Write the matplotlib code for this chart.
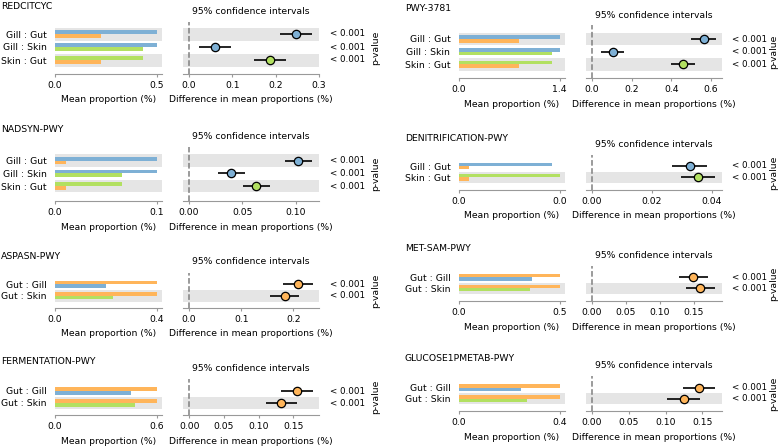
import matplotlib
matplotlib.use("Agg")
import matplotlib.pyplot as plt
import numpy as np

# ---------------- data ----------------
redcitcyc_pairs = ["Gill : Gut", "Gill : Skin", "Skin : Gut"]
redcitcyc_mean1 = [0.500, 0.500, 0.434]
redcitcyc_mean2 = [0.226, 0.434, 0.226]
redcitcyc_diff = [0.247, 0.060, 0.187]
redcitcyc_lo = [0.210, 0.023, 0.151]
redcitcyc_hi = [0.285, 0.097, 0.224]
redcitcyc_p = ["< 0.001", "< 0.001", "< 0.001"]
redcitcyc_bar_ticks = [0.0, 0.5]
redcitcyc_ci_ticks = [0.0, 0.1, 0.2, 0.3]

nadsyn_pairs = ["Gill : Gut", "Gill : Skin", "Skin : Gut"]
nadsyn_mean1 = [0.100, 0.100, 0.066]
nadsyn_mean2 = [0.011, 0.066, 0.011]
nadsyn_diff = [0.102, 0.0396, 0.0629]
nadsyn_lo = [0.0897, 0.0274, 0.0508]
nadsyn_hi = [0.1146, 0.0520, 0.0754]
nadsyn_p = ["< 0.001", "< 0.001", "< 0.001"]
nadsyn_bar_ticks = [0.0, 0.1]
nadsyn_ci_ticks = [0.00, 0.05, 0.10]

aspasn_pairs = ["Gut : Gill", "Gut : Skin"]
aspasn_mean1 = [0.400, 0.400]
aspasn_mean2 = [0.202, 0.227]
aspasn_diff = [0.2096, 0.183]
aspasn_lo = [0.181, 0.155]
aspasn_hi = [0.238, 0.211]
aspasn_p = ["< 0.001", "< 0.001"]
aspasn_bar_ticks = [0.0, 0.4]
aspasn_ci_ticks = [0.0, 0.1, 0.2]

ferm_pairs = ["Gut : Gill", "Gut : Skin"]
ferm_mean1 = [0.602, 0.602]
ferm_mean2 = [0.446, 0.469]
ferm_diff = [0.1547, 0.132]
ferm_lo = [0.132, 0.110]
ferm_hi = [0.1777, 0.1547]
ferm_p = ["< 0.001", "< 0.001"]
ferm_bar_ticks = [0.0, 0.6]
ferm_ci_ticks = [0.00, 0.05, 0.10, 0.15]

pwy3781_pairs = ["Gill : Gut", "Gill : Skin", "Skin : Gut"]
pwy3781_mean1 = [1.400, 1.400, 1.294]
pwy3781_mean2 = [0.832, 1.294, 0.832]
pwy3781_diff = [0.563, 0.104, 0.459]
pwy3781_lo = [0.501, 0.045, 0.400]
pwy3781_hi = [0.625, 0.163, 0.521]
pwy3781_p = ["< 0.001", "< 0.001", "< 0.001"]
pwy3781_bar_ticks = [0.0, 1.4]
pwy3781_ci_ticks = [0.0, 0.2, 0.4, 0.6]

denit_pairs = ["Gill : Gut", "Skin : Gut"]
denit_mean1 = [0.0360, 0.0390]
denit_mean2 = [0.0041, 0.0041]
denit_diff = [0.0326, 0.0353]
denit_lo = [0.0267, 0.0298]
denit_hi = [0.0383, 0.0411]
denit_p = ["< 0.001", "< 0.001"]
denit_bar_ticks = [0.0, 0.039]
denit_ci_ticks = [0.00, 0.02, 0.04]

metsam_pairs = ["Gut : Gill", "Gut : Skin"]
metsam_mean1 = [0.500, 0.500]
metsam_mean2 = [0.363, 0.352]
metsam_diff = [0.1496, 0.160]
metsam_lo = [0.128, 0.1388]
metsam_hi = [0.1706, 0.1815]
metsam_p = ["< 0.001", "< 0.001"]
metsam_bar_ticks = [0.0, 0.5]
metsam_ci_ticks = [0.00, 0.05, 0.10, 0.15]

glucose_pairs = ["Gut : Gill", "Gut : Skin"]
glucose_mean1 = [0.400, 0.400]
glucose_mean2 = [0.247, 0.269]
glucose_diff = [0.1454, 0.1246]
glucose_lo = [0.1236, 0.1024]
glucose_hi = [0.1677, 0.1463]
glucose_p = ["< 0.001", "< 0.001"]
glucose_bar_ticks = [0.0, 0.4]
glucose_ci_ticks = [0.00, 0.05, 0.10, 0.15]

# ---------------- style / layout ----------------
W, H, DPI = 784, 447, 100
plt.rcParams['font.family'] = ['DejaVu Sans']
FS = 6.7
FS_P = 6.3
GROUP_COLORS = {"Gill": "#7eb0d5", "Gut": "#ffb55a", "Skin": "#b2e061"}
BAND = "#e5e5e5"
SPINE = "#999999"

fig = plt.figure(figsize=(W / DPI, H / DPI), dpi=DPI)

COLS = {
    "left": dict(title_x=1, bx0=55, bx1=162, cx0=183.3, cx1=319, px=330, plx=376),
    "right": dict(title_x=404.7, bx0=458.7, bx1=564.7, cx0=586, cx1=722, px=732, plx=773.5),
}


def px_axes(x0, x1, top, bottom):
    return fig.add_axes([x0 / W, 1 - bottom / H, (x1 - x0) / W, (bottom - top) / H])


def panel(col, name, title_y, ci_title_y, top, row0, step, bottom,
          pairs, mean1, mean2, diff, lo, hi, pvals, bar_ticks, ci_ticks, ci_lim):
    c = COLS[col]
    n = len(pairs)
    ys = np.arange(n)[::-1]  # first pair on top
    ylim = ((n - 1) - (bottom - row0) / step, (n - 1) + (row0 - top) / step)

    # title
    fig.text(c["title_x"] / W, 1 - title_y / H, name, fontsize=FS,
             ha="left", va="center")

    # ---- bar axes ----
    axb = px_axes(c["bx0"], c["bx1"], top, bottom)
    for j in range(n):
        if j % 2 == 0:
            axb.axhspan(j - 0.5, j + 0.5, color=BAND, lw=0, zorder=0)
    g1 = [p.split(" : ")[0] for p in pairs]
    g2 = [p.split(" : ")[1] for p in pairs]
    axb.barh(ys + 0.15, mean1, height=0.3, color=[GROUP_COLORS[g] for g in g1],
             zorder=2)
    axb.barh(ys - 0.15, mean2, height=0.3, color=[GROUP_COLORS[g] for g in g2],
             zorder=2)
    axb.set_ylim(*ylim)
    axb.set_xlim(0, bar_ticks[-1] * 1.05)
    axb.set_yticks(ys)
    axb.set_yticklabels(pairs, fontsize=FS)
    axb.set_xticks(bar_ticks)
    axb.set_xticklabels(["%.1f" % t for t in bar_ticks], fontsize=FS)
    axb.tick_params(axis="y", length=0, pad=6)
    axb.tick_params(axis="x", length=2.5, pad=2.5, color=SPINE, width=0.8)
    for s in ("top", "right", "left"):
        axb.spines[s].set_visible(False)
    axb.spines["bottom"].set_color(SPINE)
    axb.spines["bottom"].set_linewidth(0.8)
    axb.set_xlabel("Mean proportion (%)", fontsize=FS, labelpad=4)
    axb.patch.set_visible(False)

    # ---- CI axes ----
    axc = px_axes(c["cx0"], c["cx1"], top, bottom)
    for j in range(n):
        if j % 2 == 0:
            axc.axhspan(j - 0.5, j + 0.5, color=BAND, lw=0, zorder=0)
    axc.axvline(0, color="#808080", ls="--", lw=1.1, zorder=1)
    for k in range(n):
        axc.errorbar(diff[k], ys[k],
                     xerr=[[diff[k] - lo[k]], [hi[k] - diff[k]]],
                     fmt="o", color="black", ecolor="black", elinewidth=1.2,
                     capsize=0, ms=6, mfc=GROUP_COLORS[g1[k]], mec="black",
                     mew=0.9, zorder=3)
    axc.set_ylim(*ylim)
    axc.set_xlim(*ci_lim)
    axc.set_yticks([])
    axc.set_xticks(ci_ticks)
    dec = max(len(("%g" % t).split(".")[1]) if "." in ("%g" % t) else 1
              for t in ci_ticks)
    axc.set_xticklabels([("%." + str(dec) + "f") % t for t in ci_ticks],
                        fontsize=FS)
    axc.tick_params(axis="x", length=2.5, pad=2.5, color=SPINE, width=0.8)
    for s in ("top", "right", "left"):
        axc.spines[s].set_visible(False)
    axc.spines["bottom"].set_color(SPINE)
    axc.spines["bottom"].set_linewidth(0.8)
    axc.set_xlabel("Difference in mean proportions (%)", fontsize=FS, labelpad=4)
    axc.patch.set_visible(False)
    fig.text(((c["cx0"] + c["cx1"]) / 2) / W, 1 - ci_title_y / H,
             "95% confidence intervals", fontsize=FS, ha="center", va="center")

    # p-values
    for k in range(n):
        yk = row0 + k * step
        fig.text(c["px"] / W, 1 - yk / H, pvals[k], fontsize=FS_P,
                 ha="left", va="center")
    fig.text(c["plx"] / W, 1 - ((top + bottom) / 2) / H, "p-value",
             fontsize=FS, rotation=90, ha="center", va="center")


panel("left", "REDCITCYC", 6.5, 11.7, 22, 34, 13, 74,
      redcitcyc_pairs, redcitcyc_mean1, redcitcyc_mean2, redcitcyc_diff,
      redcitcyc_lo, redcitcyc_hi, redcitcyc_p, redcitcyc_bar_ticks,
      redcitcyc_ci_ticks, (-0.013, 0.300))
panel("left", "NADSYN-PWY", 130, 136.7, 146.7, 160.7, 12.65, 201,
      nadsyn_pairs, nadsyn_mean1, nadsyn_mean2, nadsyn_diff,
      nadsyn_lo, nadsyn_hi, nadsyn_p, nadsyn_bar_ticks,
      nadsyn_ci_ticks, (-0.0053, 0.1215))
panel("left", "ASPASN-PWY", 256.7, 261.7, 273.3, 284.3, 11.6, 307.7,
      aspasn_pairs, aspasn_mean1, aspasn_mean2, aspasn_diff,
      aspasn_lo, aspasn_hi, aspasn_p, aspasn_bar_ticks,
      aspasn_ci_ticks, (-0.0109, 0.249))
panel("left", "FERMENTATION-PWY", 361.7, 368.3, 379, 391, 12.0, 415,
      ferm_pairs, ferm_mean1, ferm_mean2, ferm_diff,
      ferm_lo, ferm_hi, ferm_p, ferm_bar_ticks,
      ferm_ci_ticks, (-0.0086, 0.1868))
panel("right", "PWY-3781", 8.3, 15, 25, 39, 12.65, 78.3,
      pwy3781_pairs, pwy3781_mean1, pwy3781_mean2, pwy3781_diff,
      pwy3781_lo, pwy3781_hi, pwy3781_p, pwy3781_bar_ticks,
      pwy3781_ci_ticks, (-0.030, 0.655))
panel("right", "DENITRIFICATION-PWY", 138.3, 144.3, 155, 166, 11.4, 190,
      denit_pairs, denit_mean1, denit_mean2, denit_diff,
      denit_lo, denit_hi, denit_p, denit_bar_ticks,
      denit_ci_ticks, (-0.002, 0.0433))
panel("right", "MET-SAM-PWY", 248.3, 255, 265.7, 277.3, 10.8, 301,
      metsam_pairs, metsam_mean1, metsam_mean2, metsam_diff,
      metsam_lo, metsam_hi, metsam_p, metsam_bar_ticks,
      metsam_ci_ticks, (-0.0082, 0.1918))
panel("right", "GLUCOSE1PMETAB-PWY", 358.3, 366, 375.7, 387.7, 10.8, 411,
      glucose_pairs, glucose_mean1, glucose_mean2, glucose_diff,
      glucose_lo, glucose_hi, glucose_p, glucose_bar_ticks,
      glucose_ci_ticks, (-0.0082, 0.1766))

fig.savefig("out.png", dpi=DPI)
